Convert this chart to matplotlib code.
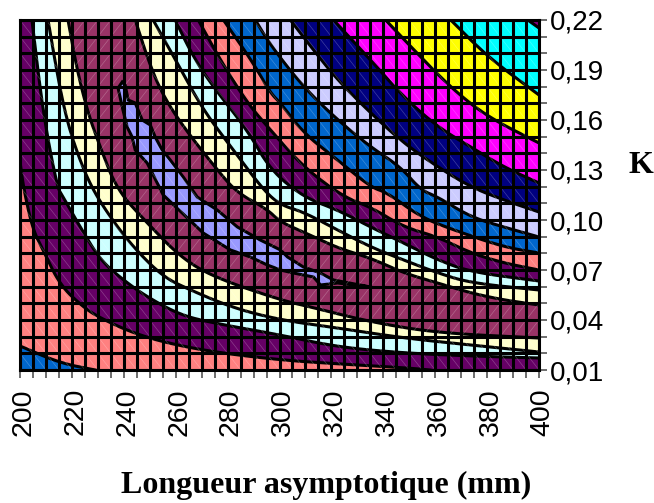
import numpy as np
import matplotlib
matplotlib.use('Agg')
import matplotlib.pyplot as plt
from matplotlib.collections import LineCollection
from matplotlib.patches import Polygon
from matplotlib.path import Path
from matplotlib.transforms import ScaledTranslation

L_MIN, L_MAX = 200, 400
K_MIN, K_MAX = 0.01, 0.22

# contours, as (longueur, K)
# lower left family, from the top or left edge towards the right edge
low_yellow = [(218.5, .22), (222, .19), (226.2, .1642), (230.9, .1438), (237.4, .118), (249, .0982), (261.8, .0778),
              (274.5, .0658), (300.4, .052), (312, .0478), (335.1, .0388), (361, .0322), (400, .0292)]
low_cyan = [(210.8, .22), (214.3, .1882), (217.4, .1642), (221.2, .1438), (227, .121), (234.7, .1018), (243.6, .0838),
            (255.2, .0658), (265.6, .058), (282.2, .0472), (300.4, .04), (322.4, .0352), (347.8, .0292),
            (373.7, .025), (400, .0208)]
low_purple = [(204.6, .22), (208.9, .1642), (214.3, .1198), (216.6, .1138), (223.2, .0958), (230.9, .076),
              (239.8, .064), (249, .0538), (261.8, .043), (274.5, .0382), (300.4, .031), (322.4, .0238),
              (347.8, .0202), (373.7, .0184), (400, .0172)]
low_salmon = [(200, .135), (201.5, .118), (205, .094), (208.9, .082), (215.4, .061), (224.3, .0478), (230.9, .0412),
              (243.6, .0322), (256.7, .0262), (274.5, .0208), (300.4, .016), (323.5, .0136), (349.4, .0112),
              (358, .01)]
low_blue = [(200, .0244), (215.4, .0142), (229, .01)]

# upper right family
up_yellow = [(244.4, .22), (249, .1978), (254, .178), (261.8, .1582), (276, .13), (283.8, .1162), (294.6, .1072),
             (300.4, .0988), (309.2, .0928), (322.4, .0832), (335.1, .0772), (347.8, .0682), (361, .0622),
             (373.7, .0562), (386.4, .052), (400, .049)]
up_cyan = [(251.3, .22), (260.6, .1942), (270.6, .166), (282.2, .142), (293.8, .118), (300.4, .109), (309.2, .1048),
           (322.4, .094), (335.1, .0838), (347.8, .076), (361, .0682), (373.7, .0622), (400, .058)]
up_purple = [(259.8, .22), (266.8, .1978), (274.5, .1798), (287.6, .154), (296.5, .13), (309.2, .1138), (322.4, .106),
             (335.1, .0958), (347.8, .0862), (361, .076), (373.7, .0688), (400, .0634)]
up_salmon = [(268.7, .22), (277.2, .196), (287.6, .1702), (296.5, .154), (309.2, .1318), (324.7, .1138),
             (335.1, .1078), (347.8, .0958), (361, .0898), (373.7, .0802), (386.4, .0742), (400, .07)]
up_blue = [(278.4, .22), (289.9, .1942), (296.5, .1762), (300.4, .1702), (309.2, .1522), (322.4, .136), (335.1, .1198),
           (341.7, .1162), (354.4, .1018), (367.1, .094), (386.4, .0838), (400, .0802)]
up_light = [(290.7, .22), (296.5, .205), (309.2, .1798), (322.4, .16), (335.1, .1438), (346.7, .1318), (354.4, .118),
            (361, .1138), (373.7, .1018), (386.4, .0958), (400, .0898)]
up_navy = [(304.2, .22), (313.1, .202), (322.4, .184), (335.1, .1642), (347.8, .1462), (361, .1318), (373.7, .1198),
           (386.4, .112), (400, .1048)]
up_magenta = [(320.8, .22), (335.1, .196), (347.8, .1738), (361, .1558), (373.7, .1438), (386.4, .1318), (400, .1222)]
up_yellow2 = [(340.9, .22), (354.4, .1978), (367.1, .178), (380.3, .1618), (400, .1462)]
up_cyan2 = [(366, .22), (380.3, .1978), (400, .175)]
up_corner = [(395.7, .22), (400, .2152)]

# valley in the middle, jagged in the original too
valley = [(239.4, .1828), (240.5, .181), (241.7, .172), (244.4, .1702), (247.1, .16), (250.2, .157), (252.1, .1498),
          (254.8, .142), (257.9, .136), (262.9, .1258), (268.3, .1138), (276, .106), (283.8, .0958), (292.6, .088),
          (300.4, .082), (303.1, .0778), (309.2, .0718), (315.8, .0682), (320.8, .064), (335.1, .0598), (322.4, .0622),
          (315.8, .061), (313.1, .0658), (305.4, .0682), (300.4, .07), (295.3, .073), (288.8, .0778), (281.1, .082),
          (270.6, .0922), (262.5, .1042), (255.2, .115), (249, .1342), (244.4, .142), (243.2, .1498), (241.3, .1558),
          (239.4, .1678), (237.8, .1792)]

low_bands = [(low_yellow, '#FFFFCC'), (low_cyan, '#CCFFFF'), (low_purple, '#660066'),
             (low_salmon, '#FF8080'), (low_blue, '#0066CC')]
up_bands = [(up_yellow, '#FFFFCC'), (up_cyan, '#CCFFFF'), (up_purple, '#660066'), (up_salmon, '#FF8080'),
            (up_blue, '#0066CC'), (up_light, '#CCCCFF'), (up_navy, '#000080'), (up_magenta, '#FF00FF'),
            (up_yellow2, '#FFFF00'), (up_cyan2, '#00FFFF'), (up_corner, '#800080')]

x_labels = [200, 220, 240, 260, 280, 300, 320, 340, 360, 380, 400]

LINE = 2.2


def smooth(curve, n=3):
    # corner cutting, only so the hand read points do not show as kinks
    pts = np.array(curve, dtype=float)
    for _ in range(n):
        q = 0.75 * pts[:-1] + 0.25 * pts[1:]
        r = 0.25 * pts[:-1] + 0.75 * pts[1:]
        mid = np.empty((2 * len(q), 2))
        mid[0::2] = q
        mid[1::2] = r
        pts = np.vstack([pts[:1], mid, pts[-1:]])
    return pts


def low_polygon(curve):
    pts = smooth(curve)
    corners = [(L_MIN, K_MIN)] if curve[0][0] == L_MIN else [(L_MAX, K_MIN), (L_MIN, K_MIN), (L_MIN, K_MAX)]
    if curve[-1][1] == K_MIN:
        corners = [(L_MIN, K_MIN), (L_MIN, K_MAX)] if curve[0][1] == K_MAX else [(L_MIN, K_MIN)]
    return np.vstack([pts, corners])


def up_polygon(curve):
    return np.vstack([smooth(curve), [(L_MAX, K_MAX)]])


fig = plt.figure(figsize=(6.54, 5.03), dpi=100)
ax = fig.add_axes([20 / 654, 1 - 370 / 503, 519 / 654, 350 / 503])
ax.set_facecolor('#993366')
ax.set_xlim(L_MIN, L_MAX)
ax.set_ylim(K_MIN, K_MAX)

# painted from the outside of the valley inwards, each band covers the next one
regions = []
for curve, color in low_bands:
    poly = low_polygon(curve)
    regions.append(Path(poly))
    ax.add_patch(Polygon(poly, closed=True, fc=color, ec='none', zorder=1))
for curve, color in up_bands:
    poly = up_polygon(curve)
    regions.append(Path(poly))
    ax.add_patch(Polygon(poly, closed=True, fc=color, ec='none', zorder=1))
ax.add_patch(Polygon(valley, closed=True, fc='#9999FF', ec='black', lw=LINE, joinstyle='miter', zorder=2))
regions.append(Path(valley))

for curve, color in low_bands + up_bands:
    pts = smooth(curve)
    ax.plot(pts[:, 0], pts[:, 1], color='black', lw=LINE, zorder=3)

# faint diagonal of every cell, it leans the other way in the maroon band
xs = np.arange(L_MIN, L_MAX, 5)
ys = K_MIN + np.arange(21) * 0.01
diag = []
for x in xs:
    for y in ys:
        centre = (x + 2.5, y + 0.005)
        if any(p.contains_point(centre) for p in regions):
            diag.append([(x, y + 0.01), (x + 5, y)])
        else:
            diag.append([(x, y), (x + 5, y + 0.01)])
ax.add_collection(LineCollection(diag, colors='white', linewidths=0.5, alpha=0.25, zorder=3.5))

# the grid of the surface
for x in np.arange(L_MIN, L_MAX + 1, 5):
    ax.axvline(x, color='black', lw=LINE, zorder=4)
for i in range(22):
    ax.axhline(K_MIN + i * 0.01, color='black', lw=LINE, zorder=4)

for side in ['left', 'right', 'top', 'bottom']:
    ax.spines[side].set_linewidth(LINE)
    ax.spines[side].set_zorder(5)

ax.yaxis.tick_right()
ax.set_xticks(np.arange(L_MIN, L_MAX + 1, 5))
ax.set_xticklabels([str(v) if v in x_labels else '' for v in np.arange(L_MIN, L_MAX + 1, 5)],
                   rotation=90, family='Liberation Sans', fontsize=20.5)
yt = [K_MIN + i * 0.01 for i in range(22)]
ylab = [f'{v:.2f}'.replace('.', ',') if i % 3 == 0 else '' for i, v in enumerate(yt)]
ax.set_yticks(yt)
ax.set_yticklabels(ylab, family='Liberation Sans', fontsize=20)
ax.tick_params(axis='both', length=6, width=1.2, color='#555555')
ax.tick_params(axis='x', pad=7)
ax.tick_params(axis='y', pad=2)

shift = ScaledTranslation(3.5 / 100, 0, fig.dpi_scale_trans)
for lab in ax.get_xticklabels():
    lab.set_transform(lab.get_transform() + shift)

fig.text(641 / 654, 1 - 165 / 503, 'K', family='Liberation Serif', weight='bold', fontsize=23, ha='center', va='center')
fig.text(326 / 654, 1 - 485 / 503, 'Longueur asymptotique (mm)', family='Liberation Serif', weight='bold',
         fontsize=23, ha='center', va='center')

fig.savefig('out.png', dpi=100)
